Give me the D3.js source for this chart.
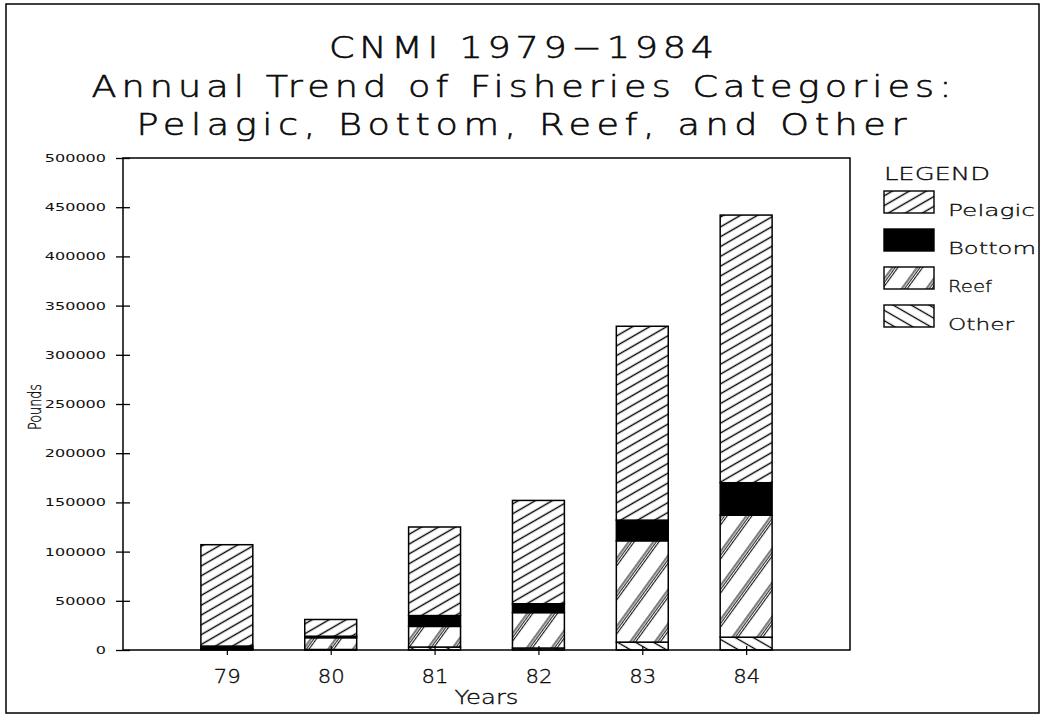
<!DOCTYPE html>
<html>
<head>
<meta charset="utf-8">
<script src="https://cdn.jsdelivr.net/npm/d3@7"></script>
<style>
  html, body { margin: 0; padding: 0; background: #fff; }
  svg { display: block; }
  text { font-family: "DejaVu Sans", sans-serif; fill: #111; }
</style>
</head>
<body>
<svg id="chart" width="1043" height="717"></svg>
<script>
// Annual landings by fisheries category (pounds)
const years   = ["79", "80", "81", "82", "83", "84"];
const pelagic = [103000, 17000, 90000, 105000, 197000, 272000];
const bottom  = [2000, 1500, 11000, 9000, 21000, 33000];
const reef    = [1000, 12000, 21000, 36000, 103000, 124000];
const other   = [1000, 500, 3000, 2000, 8000, 13000];

const categories = ["Pelagic", "Bottom", "Reef", "Other"];
const stackOrder = ["Other", "Reef", "Bottom", "Pelagic"];   // bottom to top
const yTicks = [0, 50000, 100000, 150000, 200000, 250000, 300000, 350000, 400000, 450000, 500000];

const titleLines = ["CNMI 1979\u22121984",
                    "Annual Trend of Fisheries Categories:",
                    "Pelagic, Bottom, Reef, and Other"];

const rows = years.map((y, i) => ({
  year: y, Pelagic: pelagic[i], Bottom: bottom[i], Reef: reef[i], Other: other[i]
}));

const svg = d3.select("#chart");
const ink = "#000";

// light text with a thin outline, stretched wide like a plotter font
function plotterText(sel, size, len, adjust) {
  sel.attr("font-size", size)
    .attr("font-weight", 200)
    .attr("stroke", ink)
    .attr("stroke-width", size * 0.018)
    .attr("textLength", len)
    .attr("lengthAdjust", adjust || "spacingAndGlyphs");
  return sel;
}

// ---- fill patterns ----
const defs = svg.append("defs");

function hatch(id, spacing, angle, draw) {
  const p = defs.append("pattern")
    .attr("id", id)
    .attr("patternUnits", "userSpaceOnUse")
    .attr("width", spacing).attr("height", spacing)
    .attr("patternTransform", `rotate(${angle})`);
  p.append("rect").attr("width", spacing).attr("height", spacing).attr("fill", "#fff");
  draw(p, spacing);
}
hatch("pat-pelagic", 8.5, -30, (p, s) => {
  p.append("line").attr("x1", 0).attr("x2", s).attr("y1", s / 2).attr("y2", s / 2)
    .attr("stroke", ink).attr("stroke-width", 1.4);
});
hatch("pat-other", 9, 30, (p, s) => {
  p.append("line").attr("x1", 0).attr("x2", s).attr("y1", s / 2).attr("y2", s / 2)
    .attr("stroke", ink).attr("stroke-width", 1.3);
});
hatch("pat-reef", 20, -54, (p, s) => {
  [7, 9.3, 11.6].forEach(o => {
    p.append("line").attr("x1", 0).attr("x2", s).attr("y1", o).attr("y2", o)
      .attr("stroke", ink).attr("stroke-width", 1.0);
  });
});

const fills = {
  Pelagic: "url(#pat-pelagic)",
  Bottom: ink,
  Reef: "url(#pat-reef)",
  Other: "url(#pat-other)"
};

// ---- outer frame ----
svg.append("rect")
  .attr("x", 6).attr("y", 4).attr("width", 1033).attr("height", 709)
  .attr("fill", "none").attr("stroke", ink).attr("stroke-width", 1.5);

// ---- title (glyphs widened, remaining width taken up by spacing) ----
const titleSpec = [
  { y: 58, len: 385 },
  { y: 97, len: 860 },
  { y: 135, len: 770 }
];
const widen = 1.22;
svg.append("g").selectAll("text")
  .data(titleLines)
  .join("text")
  .attr("transform", (d, i) => `translate(521.5,${titleSpec[i].y}) scale(${widen},1)`)
  .attr("text-anchor", "middle")
  .call(plotterText, 30, (d, i) => titleSpec[i].len / widen, "spacing")
  .text(d => d);

// ---- scales ----
const plot = { left: 123, right: 850, top: 158, bottom: 650 };
const x = d3.scalePoint().domain(years).range([plot.left, plot.right]).padding(1);
const y = d3.scaleLinear().domain([0, 500000]).range([plot.bottom, plot.top]);
const barW = x.step() / 2;

// ---- stacked bars ----
const series = d3.stack().keys(stackOrder)(rows);
const gBars = svg.append("g");
series.forEach(s => {
  gBars.append("g").selectAll("rect")
    .data(s)
    .join("rect")
    .attr("x", d => x(d.data.year) - barW / 2)
    .attr("y", d => y(d[1]))
    .attr("width", barW)
    .attr("height", d => y(d[0]) - y(d[1]))
    .attr("fill", fills[s.key])
    .attr("stroke", ink)
    .attr("stroke-width", 1.5);
});

// ---- plot frame ----
svg.append("rect")
  .attr("x", plot.left).attr("y", plot.top)
  .attr("width", plot.right - plot.left).attr("height", plot.bottom - plot.top)
  .attr("fill", "none").attr("stroke", ink).attr("stroke-width", 1.5);

// ---- y axis ----
const fmt = d3.format("d");
const gy = svg.append("g")
  .attr("transform", `translate(${plot.left},0)`)
  .call(d3.axisLeft(y).tickValues(yTicks).tickFormat(fmt).tickSize(7).tickPadding(10));
gy.select(".domain").remove();
gy.selectAll(".tick line").attr("x1", -7).attr("x2", 7).attr("stroke", ink).attr("stroke-width", 1.3);
gy.selectAll(".tick text")
  .attr("font-family", "DejaVu Sans, sans-serif")
  .attr("font-size", 11)
  .attr("fill", ink)
  .attr("textLength", d => fmt(d).length * 10.2)
  .attr("lengthAdjust", "spacingAndGlyphs");

// ---- x axis ----
const gx = svg.append("g")
  .attr("transform", `translate(0,${plot.bottom})`)
  .call(d3.axisBottom(x).tickSize(5).tickPadding(15));
gx.select(".domain").remove();
gx.selectAll(".tick line").attr("y1", -4).attr("y2", 5).attr("stroke", ink).attr("stroke-width", 1.2);
gx.selectAll(".tick text")
  .attr("font-family", "DejaVu Sans, sans-serif")
  .attr("fill", ink)
  .call(plotterText, 19, 27);

// ---- axis titles ----
svg.append("text")
  .attr("transform", "translate(41,407) rotate(-90)")
  .attr("text-anchor", "middle")
  .attr("font-size", 17)
  .attr("font-weight", 200)
  .attr("stroke", ink).attr("stroke-width", 0.35)
  .attr("textLength", 46)
  .attr("lengthAdjust", "spacingAndGlyphs")
  .text("Pounds");

svg.append("text")
  .attr("x", (plot.left + plot.right) / 2)
  .attr("y", 704)
  .attr("text-anchor", "middle")
  .call(plotterText, 20, 64)
  .text("Years");

// ---- legend ----
const gl = svg.append("g");
gl.append("text")
  .attr("x", 884).attr("y", 180)
  .call(plotterText, 18, 106)
  .text("LEGEND");

const legendLen = { Pelagic: 87, Bottom: 88, Reef: 44, Other: 66 };
const item = gl.selectAll("g.item")
  .data(categories)
  .join("g")
  .attr("class", "item")
  .attr("transform", (d, i) => `translate(884,${191 + i * 38})`);
item.append("rect")
  .attr("width", 50).attr("height", 22)
  .attr("fill", d => fills[d])
  .attr("stroke", ink).attr("stroke-width", 1.4);
item.append("text")
  .attr("x", 64).attr("y", 25)
  .call(plotterText, 15, d => legendLen[d])
  .text(d => d);
</script>
</body>
</html>
